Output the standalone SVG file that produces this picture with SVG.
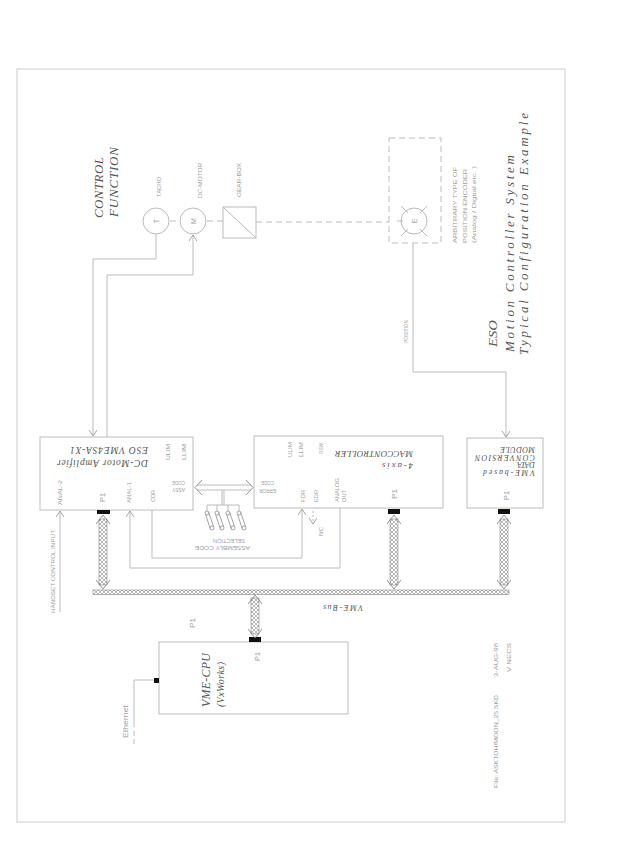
<svg xmlns="http://www.w3.org/2000/svg" width="620" height="850" viewBox="0 0 620 850">
<defs>
<pattern id="hatch" width="4" height="4" patternUnits="userSpaceOnUse"><path d="M0,0 L4,4 M4,0 L0,4" stroke="#888" stroke-width="0.6"/></pattern>
<marker id="chev" markerWidth="10" markerHeight="10" refX="6" refY="4" orient="auto" markerUnits="userSpaceOnUse"><path d="M0,0 L6,4 L0,8" fill="none" stroke="#999" stroke-width="0.9"/></marker>
</defs>
<style>
.box{fill:none;stroke:#bbb;stroke-width:1}
.ln{fill:none;stroke:#bbb;stroke-width:1}
.dash{fill:none;stroke:#bbb;stroke-width:1;stroke-dasharray:6,4}
.it{font-family:"Liberation Serif",serif;font-style:italic;fill:#555}
.lb{font-family:"Liberation Sans",sans-serif;fill:#a0a0a0}
.blk{fill:#111}
.bus{fill:url(#hatch);stroke:#888;stroke-width:0.6}
.chv{fill:none;stroke:#888;stroke-width:0.9}
</style>
<rect x="17" y="69" width="548" height="753" fill="none" stroke="#ccc" stroke-width="1"/>

<!-- titles -->
<g id="title">
<text class="it" font-size="13" transform="translate(497,347) rotate(-90)" textLength="27" lengthAdjust="spacingAndGlyphs">ESO</text>
<text class="it" font-size="13" transform="translate(514,352) rotate(-90)" textLength="197" lengthAdjust="spacing">Motion  Controller  System</text>
<text class="it" font-size="13" transform="translate(528,355) rotate(-90)" textLength="242" lengthAdjust="spacing">Typical  Configuration  Example</text>
</g>
<g id="control-function">
<text class="it" font-size="13" transform="translate(103,218) rotate(-90)" textLength="61" lengthAdjust="spacing">CONTROL</text>
<text class="it" font-size="13" transform="translate(118,217) rotate(-90)" textLength="70" lengthAdjust="spacing">FUNCTION</text>
</g>

<!-- tacho -->
<g id="tacho">
<circle cx="156" cy="221" r="13" class="box"/>
<text class="lb" font-size="7" text-anchor="middle" transform="translate(158.5,221) rotate(-90)">T</text>
<text class="lb" font-size="5.5" transform="translate(161,197) rotate(-90)" textLength="20" lengthAdjust="spacingAndGlyphs">TACHO</text>
</g>
<g id="motor">
<circle cx="193" cy="221" r="13" class="box"/>
<text class="lb" font-size="7" text-anchor="middle" transform="translate(195.5,221) rotate(-90)">M</text>
<text class="lb" font-size="5.5" transform="translate(202,198) rotate(-90)" textLength="35" lengthAdjust="spacingAndGlyphs">DC-MOTOR</text>
</g>
<g id="gearbox">
<rect x="223" y="207" width="33" height="31" class="box"/>
<path d="M223,207 L256,238" class="ln" stroke="#999"/>
<text class="lb" font-size="5.5" transform="translate(241,197) rotate(-90)" textLength="34" lengthAdjust="spacingAndGlyphs">GEAR-BOX</text>
</g>
<g id="encoder">
<rect x="389" y="138" width="52" height="105" class="dash"/>
<circle cx="414" cy="221" r="13" class="box"/>
<path d="M397,221 H403 M403,208 L408,213 M425,208 L420,213 M403,234 L408,229 M425,234 L420,229 M401,206 L405,210 M427,206 L423,210 M401,236 L405,232 M427,236 L423,232" class="ln"/>
<text class="lb" font-size="7" text-anchor="middle" transform="translate(416.5,221) rotate(-90)">E</text>
<text class="lb" font-size="6" transform="translate(457,243) rotate(-90)" textLength="76" lengthAdjust="spacingAndGlyphs">ARBITRARY TYPE OF</text>
<text class="lb" font-size="6" transform="translate(467,243) rotate(-90)" textLength="74" lengthAdjust="spacingAndGlyphs">POSITION ENCODER</text>
<text class="lb" font-size="6" transform="translate(476,243) rotate(-90)" textLength="77" lengthAdjust="spacingAndGlyphs">(Analog / Digital etc. )</text>
</g>

<!-- amplifier -->
<g id="amplifier">
<rect x="40" y="437" width="153" height="73" class="box"/>
<text class="it" font-size="9.5" transform="rotate(180,148,460)" x="148" y="460" textLength="91" lengthAdjust="spacing">DC-Motor Amplifier</text>
<text class="it" font-size="9.5" transform="rotate(180,148,447)" x="148" y="447" textLength="78" lengthAdjust="spacing">ESO  VME4SA-X1</text>
<text class="lb" font-size="5.5" transform="translate(62,505) rotate(-90)" textLength="25" lengthAdjust="spacingAndGlyphs">ANAL-2</text>
<text class="lb" font-size="7" transform="translate(105,502) rotate(-90)" textLength="9" lengthAdjust="spacingAndGlyphs">P1</text>
<text class="lb" font-size="5.5" transform="translate(131,503) rotate(-90)" textLength="21" lengthAdjust="spacingAndGlyphs">ANAL-1</text>
<text class="lb" font-size="5.5" transform="translate(155,502) rotate(-90)" textLength="12" lengthAdjust="spacingAndGlyphs">CDR</text>
<text class="lb" font-size="5.5" transform="translate(170,460) rotate(-90)" textLength="16" lengthAdjust="spacingAndGlyphs">ULIM</text>
<text class="lb" font-size="5.5" transform="translate(186,460) rotate(-90)" textLength="16" lengthAdjust="spacingAndGlyphs">LLIM</text>
<text class="lb" font-size="5" transform="rotate(180,185,488)" x="185" y="488" textLength="13" lengthAdjust="spacingAndGlyphs">ASSY</text>
<text class="lb" font-size="5" transform="rotate(180,185,481)" x="185" y="481" textLength="13" lengthAdjust="spacingAndGlyphs">CODE</text>
<rect x="97" y="510" width="13" height="4" class="blk"/>
</g>

<!-- mac controller -->
<g id="maccontroller">
<rect x="254" y="436" width="189" height="72" class="box"/>
<text class="it" font-size="9" transform="rotate(180,413,463)" x="413" y="463" textLength="31" lengthAdjust="spacing">4-axis</text>
<text class="it" font-size="9" transform="rotate(180,413,451)" x="413" y="451" textLength="78" lengthAdjust="spacing">MACCONTROLLER</text>
<text class="lb" font-size="5.5" transform="translate(292,457) rotate(-90)" textLength="15" lengthAdjust="spacingAndGlyphs">ULIM</text>
<text class="lb" font-size="5.5" transform="translate(303,457) rotate(-90)" textLength="15" lengthAdjust="spacingAndGlyphs">LLIM</text>
<text class="lb" font-size="5.5" transform="translate(323,454) rotate(-90)" textLength="11" lengthAdjust="spacingAndGlyphs">RSW</text>
<text class="lb" font-size="5" transform="rotate(180,276,489)" x="276" y="489" textLength="17" lengthAdjust="spacingAndGlyphs">ERROR</text>
<text class="lb" font-size="5" transform="rotate(180,274,481)" x="274" y="481" textLength="13" lengthAdjust="spacingAndGlyphs">CODE</text>
<text class="lb" font-size="5.5" transform="translate(305,502) rotate(-90)" textLength="12" lengthAdjust="spacingAndGlyphs">FDR</text>
<text class="lb" font-size="5.5" transform="translate(318,502) rotate(-90)" textLength="12" lengthAdjust="spacingAndGlyphs">EDR</text>
<text class="lb" font-size="5.5" transform="translate(339,502) rotate(-90)" textLength="24" lengthAdjust="spacingAndGlyphs">ANALOG</text>
<text class="lb" font-size="5.5" transform="translate(346,502) rotate(-90)" textLength="12" lengthAdjust="spacingAndGlyphs">OUT</text>
<text class="lb" font-size="7" transform="translate(397,499) rotate(-90)" textLength="10" lengthAdjust="spacingAndGlyphs">P1</text>
<rect x="388" y="509" width="12" height="5" class="blk"/>
<text class="lb" font-size="5.5" transform="translate(323,536) rotate(-90)" textLength="9" lengthAdjust="spacingAndGlyphs">NC</text>
</g>

<!-- data module -->
<g id="data-module">
<rect x="467" y="438" width="76" height="70" class="box"/>
<text class="it" font-size="8" transform="rotate(180,535,470)" x="535" y="470" textLength="52" lengthAdjust="spacing">VME-based</text>
<text class="it" font-size="8" transform="rotate(180,535,462)" x="535" y="462" textLength="18" lengthAdjust="spacing">DATA</text>
<text class="it" font-size="8" transform="rotate(180,535,455)" x="535" y="455" textLength="60" lengthAdjust="spacing">CONVERSION</text>
<text class="it" font-size="8" transform="rotate(180,535,447)" x="535" y="447" textLength="35" lengthAdjust="spacing">MODULE</text>
<text class="lb" font-size="7" transform="translate(509,500) rotate(-90)" textLength="9" lengthAdjust="spacingAndGlyphs">P1</text>
<rect x="498" y="509" width="12" height="5" class="blk"/>
</g>

<!-- cpu -->
<g id="cpu">
<rect x="159" y="642" width="189" height="72" class="box"/>
<text class="it" font-size="12" transform="translate(210,707) rotate(-90)" textLength="54" lengthAdjust="spacing">VME-CPU</text>
<text class="it" font-size="10" transform="translate(224,707) rotate(-90)" textLength="45" lengthAdjust="spacing">(VxWorks)</text>
<text class="lb" font-size="7" transform="translate(260,661) rotate(-90)" textLength="9" lengthAdjust="spacingAndGlyphs">P1</text>
<text class="lb" font-size="7" transform="translate(195,628) rotate(-90)" textLength="10" lengthAdjust="spacingAndGlyphs">P1</text>
<rect x="249" y="637" width="12" height="5" class="blk"/>
<rect x="154" y="678" width="5" height="5" class="blk"/>
</g>

<!-- switches -->
<g id="assembly-code-selection">
<path d="M207,505 H239 M207,505 V511 M217,505 V511 M228,505 V511 M239,505 V511" class="ln" stroke="#999"/>
<g fill="none" stroke="#999" stroke-width="0.9">
<circle cx="207" cy="513" r="2"/><circle cx="212" cy="528" r="2"/><path d="M205.6,514.5 L210.2,528.5 M208.6,512.3 L213.6,526.6"/>
<circle cx="217" cy="513" r="2"/><circle cx="222" cy="528" r="2"/><path d="M215.6,514.5 L220.2,528.5 M218.6,512.3 L223.6,526.6"/>
<circle cx="228" cy="513" r="2"/><circle cx="233" cy="528" r="2"/><path d="M226.6,514.5 L231.2,528.5 M229.6,512.3 L234.6,526.6"/>
<circle cx="239" cy="513" r="2"/><circle cx="244" cy="528" r="2"/><path d="M237.6,514.5 L242.2,528.5 M240.6,512.3 L245.6,526.6"/>
</g>
<text class="lb" font-size="5" transform="rotate(180,250,546)" x="250" y="546" textLength="55" lengthAdjust="spacingAndGlyphs">ASSEMBLY CODE</text>
<text class="lb" font-size="5" transform="rotate(180,245,539)" x="245" y="539" textLength="32" lengthAdjust="spacingAndGlyphs">SELECTION</text>
</g>

<!-- bus -->
<g id="vme-bus">
<rect x="93" y="590" width="416" height="4.5" class="bus"/>
<text class="it" font-size="8" transform="rotate(180,363,605)" x="363" y="605" textLength="40" lengthAdjust="spacing">VME-Bus</text>
</g>

<!-- connectors -->
<g id="connectors">
<path d="M156,234 V259 H93 V436" class="ln" marker-end="url(#chev)"/>
<path d="M107,437 V275 H193 V235" class="ln" marker-end="url(#chev)"/>
<path d="M152,510 V558 H302 V509" class="ln" marker-end="url(#chev)"/>
<path d="M340,508 V568 H130 V511" class="ln" marker-end="url(#chev)"/>
<path d="M60,612 V511" class="ln" marker-end="url(#chev)"/>
<path d="M413,243 V372 H506 V437" class="ln" marker-end="url(#chev)"/>
<path d="M313,511 V524" class="ln" stroke-dasharray="2,2" marker-end="url(#chev)"/>
<path d="M154,680 H134 V727" class="ln"/>
<path d="M134,731 V736 M134,739 V744" class="ln"/>
<path d="M170,221 H180 M207,221 H223 M256,222 H389" class="dash"/>
<!-- assy code double arrow -->
<path d="M197,485 H251 M197,490 H251 M222,490 V505 M224,490 V505" class="ln" stroke="#999"/>
<path d="M202,480 L195,487.5 L202,495 M246,480 L253,487.5 L246,495" class="chv"/>
<!-- hatched double arrows -->
<rect x="99" y="519" width="8" height="66" class="bus"/>
<path d="M96,524 L103,515 L110,524 M96,580 L103,589 L110,580" class="chv"/>
<rect x="390" y="519" width="8" height="66" class="bus"/>
<path d="M387,524 L394,515 L401,524 M387,580 L394,589 L401,580" class="chv"/>
<rect x="500" y="519" width="8" height="66" class="bus"/>
<path d="M497,524 L504,515 L511,524 M497,580 L504,589 L511,580" class="chv"/>
<rect x="251" y="598" width="8" height="36" class="bus"/>
<path d="M248,604 L255,595 L262,604 M248,629 L255,638 L262,629" class="chv"/>
</g>

<!-- free labels -->
<g id="labels">
<text class="lb" font-size="6" transform="translate(55,613) rotate(-90)" textLength="83" lengthAdjust="spacingAndGlyphs">HANDSET CONTROL INPUT</text>
<text class="lb" font-size="5.5" transform="translate(408,343) rotate(-90)" textLength="23" lengthAdjust="spacingAndGlyphs">POSITION</text>
<text class="lb" font-size="7" transform="translate(128,738) rotate(-90)" textLength="33" lengthAdjust="spacingAndGlyphs">Ethernet</text>
<text class="lb" font-size="6" transform="translate(498,677) rotate(-90)" textLength="34" lengthAdjust="spacingAndGlyphs">3-AUG-98</text>
<text class="lb" font-size="6" transform="translate(511,672) rotate(-90)" textLength="29" lengthAdjust="spacingAndGlyphs">V  NECS</text>
<text class="lb" font-size="6" transform="translate(498,788) rotate(-90)" textLength="93" lengthAdjust="spacingAndGlyphs">File: ASKTOH/MOON_25.SKD</text>
</g>
</svg>
